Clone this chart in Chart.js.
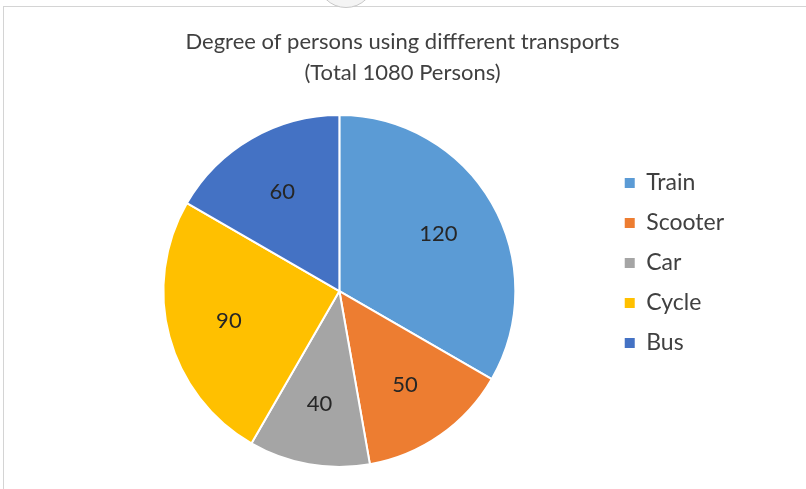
<!DOCTYPE html>
<html>
<head>
<meta charset="utf-8">
<script src="https://cdn.jsdelivr.net/npm/chart.js@4"></script>
<style>
    html, body { margin: 0; padding: 0; background: #ffffff; }
    #wrap { position: relative; width: 806px; height: 489px; overflow: hidden; }
    #frame { position: absolute; left: 3px; top: 6px; right: 0; bottom: 0; border-left: 1px solid #d4d4d4; border-top: 1px solid #d4d4d4; }
    #knob { position: absolute; left: 317px; top: -50px; width: 56px; height: 56px; border-radius: 50%; border: 1px solid #c8c8c8; background: #f4f4f4; }
    canvas { position: absolute; left: 0; top: 0; }
</style>
</head>
<body>
<div id="wrap">
    <div id="frame"></div>
    <div id="knob"></div>
    <canvas id="pieChart" width="806" height="489"></canvas>
</div>
<script>
const titleLines = ['Degree of persons using diffferent transports', '(Total 1080 Persons)'];
const transports = ['Train', 'Scooter', 'Car', 'Cycle', 'Bus'];
const degrees = [120, 50, 40, 90, 60];
const sliceColors = [
    '#5b9bd5', // train
    '#ed7d31', // scooter
    '#a5a5a5', // car
    '#ffc000', // cycle
    '#4472c4'  // bus
];

// values written inside each slice
const sliceLabels = {
    id: 'sliceLabels',
    afterDatasetsDraw(chart) {
        const ctx = chart.ctx;
        const meta = chart.getDatasetMeta(0);
        ctx.save();
        ctx.font = '22px Lato';
        ctx.fillStyle = '#262626';
        ctx.textAlign = 'center';
        ctx.textBaseline = 'middle';
        meta.data.forEach((arc, i) => {
            const mid = (arc.startAngle + arc.endAngle) / 2;
            const r = arc.outerRadius * 0.65;
            ctx.fillText(String(degrees[i]), arc.x + Math.cos(mid) * r, arc.y + Math.sin(mid) * r);
        });
        ctx.restore();
    }
};

const ctx = document.getElementById('pieChart').getContext('2d');
new Chart(ctx, {
    type: 'pie',
    data: {
        labels: transports,
        datasets: [{
            data: degrees,
            backgroundColor: sliceColors,
            borderColor: '#ffffff',
            borderWidth: 2
        }]
    },
    options: {
        responsive: false,
        animation: false,
        layout: { padding: { left: 71, right: 72, bottom: 21 } },
        plugins: {
            title: {
                display: true,
                text: titleLines,
                color: '#404040',
                font: { family: 'Lato', size: 22, weight: 'normal', lineHeight: 1.41 },
                padding: { top: 26, bottom: 26 }
            },
            legend: {
                position: 'right',
                title: {
                    display: true,
                    text: '',
                    font: { size: 10, lineHeight: 1.2 },
                    padding: { top: 46, bottom: 0 }
                },
                labels: {
                    color: '#404040',
                    font: { family: 'Lato', size: 23 },
                    boxWidth: 10,
                    boxHeight: 10,
                    padding: 17,
                    generateLabels(chart) {
                        const items = Chart.overrides.pie.plugins.legend.labels.generateLabels(chart);
                        return items.map(it => Object.assign(it, { lineWidth: 0, strokeStyle: it.fillStyle }));
                    }
                }
            },
            tooltip: { enabled: false }
        }
    },
    plugins: [sliceLabels]
});
</script>
</body>
</html>
